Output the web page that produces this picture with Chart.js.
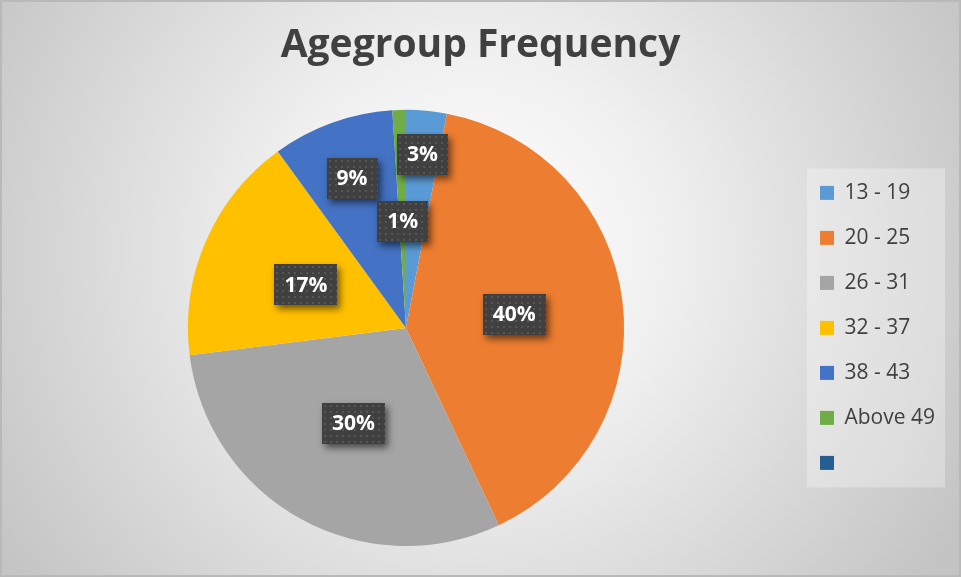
<!DOCTYPE html>
<html>
<head>
<meta charset="utf-8">
<title>Agegroup Frequency</title>
<script src="https://cdn.jsdelivr.net/npm/chart.js@4.4.1/dist/chart.umd.min.js"></script>
<style>
  html, body { margin: 0; padding: 0; background: #fff; }
  #wrap { width: 961px; height: 577px; }
</style>
</head>
<body>
<div id="wrap"><canvas id="ageChart" width="961" height="577"></canvas></div>
<script>
// age groups and their share of the total (percent)
const ageGroups = ["13 - 19", "20 - 25", "26 - 31", "32 - 37", "38 - 43", "Above 49", ""];
const sharePercent = [3, 40, 30, 17, 9, 1, 0];
const sliceColors = ["#5B9BD5", "#ED7D31", "#A5A5A5", "#FFC000", "#4472C4", "#70AD47", "#255E91"];
// how far out along the radius each value box sits (fraction of radius)
const labelRadius = [0.8, 0.5, 0.5, 0.5, 0.73, 0.49, 0.5];

const FONT = "'Open Sans', Lato, sans-serif";

// grey radial wash behind everything + the lighter legend panel
const backdrop = {
  id: "backdrop",
  beforeDraw(chart) {
    const { ctx, width, height } = chart;
    ctx.save();
    const g = ctx.createRadialGradient(470, 250, 0, 470, 250, 560);
    g.addColorStop(0, "#ffffff");
    g.addColorStop(0.35, "#f0f0f0");
    g.addColorStop(1, "#c4c4c4");
    ctx.fillStyle = g;
    ctx.fillRect(0, 0, width, height);
    ctx.strokeStyle = "#b9b9b9";
    ctx.lineWidth = 2;
    ctx.strokeRect(1, 1, width - 2, height - 2);

    const lg = chart.legend;
    if (lg && lg.legendHitBoxes && lg.legendHitBoxes.length) {
      const boxes = lg.legendHitBoxes;
      const left = Math.min(...boxes.map(b => b.left)) - 13;
      const top = Math.min(...boxes.map(b => b.top)) - 14;
      const bottom = Math.max(...boxes.map(b => b.top + b.height)) + 14;
      ctx.fillStyle = "rgba(255,255,255,0.3)";
      ctx.fillRect(left, top, lg.right - left, bottom - top);
    }
    ctx.restore();
  }
};

// keep the legend column centred on the pie vertically
// (runs after the legend plugin has placed its hit boxes)
const legendCentre = {
  id: "legendCentre",
  afterUpdate(chart) {
    const lg = chart.legend;
    if (!lg || !lg.legendHitBoxes || !lg.legendHitBoxes.length) return;
    const boxes = lg.legendHitBoxes;
    const first = boxes[0];
    const last = boxes[boxes.length - 1];
    const mid = (first.top + last.top + last.height) / 2;
    const target = (chart.chartArea.top + chart.chartArea.bottom) / 2;
    const dy = target - mid;
    lg.top += dy;
    lg.bottom += dy;
    boxes.forEach(b => { b.top += dy; });
  }
};

// dark dotted value boxes on top of the slices
let dotPattern = null;
function getPattern(ctx) {
  if (dotPattern) return dotPattern;
  const c = document.createElement("canvas");
  c.width = 6; c.height = 6;
  const p = c.getContext("2d");
  p.fillStyle = "#404040";
  p.fillRect(0, 0, 6, 6);
  p.fillStyle = "#565656";
  p.fillRect(2, 2, 2, 2);
  dotPattern = ctx.createPattern(c, "repeat");
  return dotPattern;
}

const valueBoxes = {
  id: "valueBoxes",
  afterDatasetsDraw(chart) {
    const { ctx } = chart;
    const meta = chart.getDatasetMeta(0);
    const values = chart.data.datasets[0].data;
    ctx.save();
    ctx.font = "bold 21px " + FONT;
    ctx.textAlign = "center";
    ctx.textBaseline = "middle";
    meta.data.forEach((arc, i) => {
      if (!values[i]) return;
      const { x, y, startAngle, endAngle, outerRadius } = arc.getProps(["x", "y", "startAngle", "endAngle", "outerRadius"], true);
      const mid = (startAngle + endAngle) / 2;
      const r = outerRadius * labelRadius[i];
      const cx = x + Math.cos(mid) * r;
      const cy = y + Math.sin(mid) * r;
      const text = values[i] + "%";
      const w = Math.round(ctx.measureText(text).width + 20);
      const h = 41;
      const bx = Math.round(cx - w / 2), by = Math.round(cy - h / 2);

      ctx.save();
      ctx.shadowColor = "rgba(0,0,0,0.55)";
      ctx.shadowBlur = 7;
      ctx.shadowOffsetX = 3;
      ctx.shadowOffsetY = 4;
      ctx.fillStyle = "#404040";
      ctx.fillRect(bx, by, w, h);
      ctx.restore();

      ctx.save();
      ctx.translate(bx, by);
      ctx.fillStyle = getPattern(ctx);
      ctx.fillRect(0, 0, w, h);
      ctx.restore();

      ctx.fillStyle = "#ffffff";
      ctx.fillText(text, cx, cy + 1);
    });
    ctx.restore();
  }
};

new Chart(document.getElementById("ageChart"), {
  type: "pie",
  data: {
    labels: ageGroups,
    datasets: [{
      data: sharePercent,
      backgroundColor: sliceColors,
      borderWidth: 0
    }]
  },
  options: {
    responsive: false,
    animation: false,
    layout: { padding: { left: 16, right: 16, top: 0, bottom: 31 } },
    plugins: {
      title: {
        display: true,
        text: "Agegroup Frequency",
        color: "#404040",
        font: { family: FONT, size: 39, weight: "bold" },
        padding: { top: 22, bottom: 41 }
      },
      legend: {
        position: "right",
        labels: {
          color: "#404040",
          font: { family: FONT, size: 21 },
          boxWidth: 14,
          boxHeight: 14,
          padding: 24
        }
      },
      tooltip: { enabled: false }
    }
  },
  plugins: [backdrop, legendCentre, valueBoxes]
});
</script>
</body>
</html>
